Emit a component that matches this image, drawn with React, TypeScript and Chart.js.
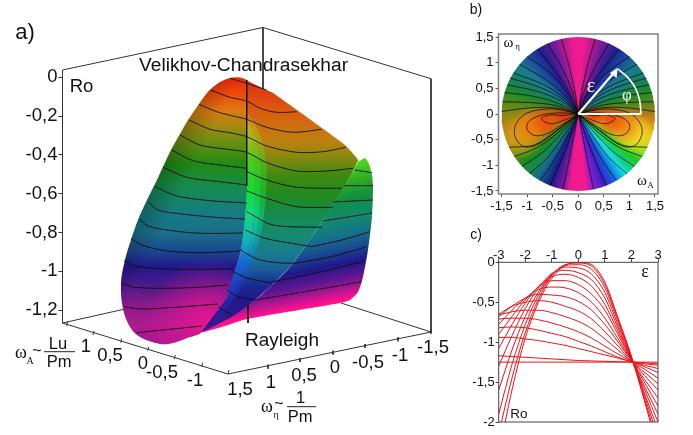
import React, { useEffect, useRef } from "react";
import { Chart, registerables } from "chart.js";

Chart.register(...registerables);

type Pt = [number, number];
const SANS = '"Liberation Sans", Arial, sans-serif';
const SERIF = '"Liberation Serif", serif';
const comma = (v: number) => String(v).replace(".", ",");

/* ---------- panel a: projected surface, in the picture's view coordinates ---------- */
const roTicks = [0, -0.2, -0.4, -0.6, -0.8, -1, -1.2];
const leftLobe: Pt[] = [[247,80],[240,77.5],[230,78],[217,84],[207,93],[197,107],[188,120],[180,134],[171,150],[163,167],[155,184],[147,200],[138,220],[131,240],[125,260],[121,283],[123,309],[130,327],[140,337],[160,344],[173,343],[187,338],[202,332],[218,310],[227,297],[236,268],[241,250],[245,220],[247,190],[247,120]];
const rightLobe: Pt[] = [[358,162],[365,158],[369,164],[372,175],[373,187],[372,217],[368,250],[363,277],[358,292],[350,300],[340,303],[247,319],[225,326],[202,332],[255,300],[290,267],[318,228],[345,186]];
const frontSurface: Pt[] = [[246,80],[262,88],[273,93],[297,110],[322,128],[345,145],[358,160],[345,186],[330,210],[318,228],[305,247],[290,267],[272,285],[255,300],[235,315],[202,332],[218,310],[227,297],[236,268],[241,250],[245,220],[247,190]];
const creaseGlowWide: Pt[] = [[247,112],[258,130],[266,160],[266,190],[264,215],[258,245],[248,275],[232,302],[210,327],[227,297],[236,268],[241,250],[245,220],[247,190]];
const creaseGlowMid: Pt[] = [[247,118],[254,135],[260,165],[260,195],[258,220],[253,248],[245,272],[232,297],[227,297],[236,268],[241,250],[245,220],[247,190]];
const creaseGlowNarrow: Pt[] = [[247,125],[251,145],[254,170],[254,200],[252,225],[248,250],[242,270],[232,292],[227,297],[236,268],[241,250],[245,220],[247,190]];

const leftStops: [number, string][] = [[78,"#e52a0a"],[92,"#ee4708"],[110,"#dd7a10"],[125,"#aa8a10"],[145,"#5f8f12"],[165,"#1f8a15"],[190,"#158a55"],[215,"#177a85"],[233,"#1a6f8a"],[250,"#1a4a90"],[267,"#22188a"],[285,"#4a1a8a"],[305,"#8a1a8a"],[325,"#b01a90"],[345,"#a01a90"]];
const rightStops: [number, string][] = [[170,"#50e020"],[190,"#30b020"],[208,"#109040"],[228,"#128a70"],[244,"#15708c"],[258,"#1a4a90"],[272,"#20188a"],[286,"#5a1590"],[298,"#b01590"],[308,"#ff1090"],[330,"#ff1090"]];
const frontStops: [number, string][] = [[82,"#dd300f"],[110,"#dd5a0f"],[140,"#c08010"],[155,"#90880f"],[175,"#408a10"],[195,"#208a20"],[215,"#168a50"],[235,"#158a70"],[255,"#1a7a90"],[270,"#1a5a9a"],[285,"#1a2a90"],[300,"#20188a"],[332,"#3a1a90"]];
const glowStops: [number, string][] = [[112,"#f0a01066"],[130,"#b0d02066"],[160,"#40e02066"],[190,"#10f04066"],[215,"#10f09066"],[240,"#10c0d066"],[260,"#1070e066"],[285,"#2040d066"],[330,"#3020a066"]];

const surfaceContours: Pt[][] = [
  [[230,78.3],[246.7,83.3],[266.7,90]],
  [[210.7,90],[230,97.3],[246.7,101],[260,108.3],[276.7,112.3],[296.7,111.7]],
  [[199,104.3],[216.7,111.7],[233,116],[246.7,119.3],[266.7,127.3],[293,132.3],[321.7,129.3]],
  [[189,120],[210,129.3],[230,132.7],[246.7,136.7],[266.7,146],[296.7,152.3],[323,151.7],[345.7,147.3]],
  [[180,135],[200,145],[226.7,149.3],[246.7,152.3],[266.7,162.7],[296.7,171],[326.7,171],[353,168.3]],
  [[171.7,150],[193,160.7],[220,165],[246.7,168.3]],
  [[247,171.7],[266.7,180],[296.7,187.3],[341.7,188.3]],
  [[163,167.3],[186.7,177.3],[220,181.7],[246.7,185]],
  [[247,191],[266.7,198.3],[296.7,206.7],[333,207.3]],
  [[155,186.7],[176.7,196],[210,200.7],[246.7,203]],
  [[246.7,211.7],[273,225],[322,227.3]],
  [[148,201.7],[158,210],[181.7,214],[215,217.3],[245,219]],
  [[245,230],[265,238.3],[291.7,243.3],[311.7,246.7]],
  [[140,219.3],[148,226],[171.7,230.7],[201.7,233.3],[243,233]],
  [[240,250],[258,259.3],[278,262.7],[295,263.3]],
  [[131,238.3],[141.7,245],[168,251],[201.7,252.7],[240,251]],
  [[233,271.7],[248,278.3],[271.7,283]],
  [[124,260.7],[135,266],[165,269],[198,269.3],[233,269]],
  [[226.7,290],[238,296.7],[255,300]],
  [[121,283.3],[135,287.3],[165,288.3],[198,287.3],[226.7,285]],
  [[218,306.7],[231.7,315]],
  [[124.3,306.7],[141.7,309],[175,307.3],[218,304]],
  [[136.7,332.7],[163,330],[201.7,326]],
  [[355,170],[372,172.7]],
  [[344,185.7],[373,185.7]],
  [[333,202],[373,200]],
  [[323,221],[348,217],[372,213]],
  [[311.7,246.7],[341.7,240],[370,231.7]],
  [[295,263.3],[331.7,256.7],[366.7,246.7]],
  [[271.7,282],[321.7,271.7],[363,261.7]],
  [[255,300],[305,291.7],[361.7,281.7]],
];
const creaseUpper: Pt[] = [[246.7,80],[246.7,186]];
const creaseLower: Pt[] = [[248,305],[248,323]];
const backBox: Pt[][] = [
  [[62.5,70],[263,27.5],[431,78.7],[431,332]],
  [[263,27.5],[263,90]],
  [[62.5,323],[125,309]],
  [[341,303],[431,332]],
];
const frontBox: Pt[][] = [
  [[62.5,70],[62.5,323],[228,374],[431,332]],
];
const omegaATicks: Pt[] = [[66.7,326],[93,335],[120.7,342.7],[147.7,350.7],[174.3,359],[201.7,366.7],[228,374]];
const omegaEtaTicks: Pt[] = [[268,366.7],[300,360],[333,352.7],[365,346],[398,339.3],[431,331.7]];
const omegaALabels = ["1","0,5","0","-0,5","-1"];
const omegaAPos: Pt[] = [[86,347],[110,356],[143,364],[162,373],[195,381]];
const omegaEtaLabels = ["1,5","1","0,5","0","-0,5","-1","-1,5"];
const omegaEtaPos: Pt[] = [[240,390],[271,383],[304,375.5],[335,368],[368,362.5],[400,355.5],[433,348]];

/* ---------- panel b ---------- */
const discTicks = [-1.5,-1,-0.5,0,0.5,1,1.5];
const discRadius = 1.5;
const discStops: [number, string][] = [
  [0,"#b07a14"],[6,"#d88a12"],[13,"#e8b018"],[20,"#dcd420"],[30,"#90e020"],[38,"#20c820"],[46,"#10d080"],[52,"#10e0e0"],[62,"#1060e0"],[70,"#4020c8"],[78,"#8020d0"],[84,"#f01a90"],[96,"#f01a90"],[102,"#7a18a0"],[112,"#1a1a8a"],[122,"#156a8a"],[130,"#128a50"],[138,"#1a8a20"],[148,"#709010"],[158,"#b08a10"],[172,"#b08010"],
  [180,"#8a8a14"],[190,"#4f8a1c"],[200,"#1a8a30"],[210,"#15806a"],[220,"#1b7a90"],[230,"#1a4a9a"],[240,"#20208f"],[250,"#6a1a9a"],[260,"#c01a90"],[266,"#f01a90"],[274,"#f01a90"],[280,"#c01a90"],[290,"#6a1a9a"],[300,"#20208f"],[310,"#1a4a9a"],[320,"#1b7a90"],[330,"#15806a"],[340,"#1a8a30"],[350,"#4f8a1c"],[360,"#b07a14"],
];
const discBlobs: [number, number, number, string][] = [
  [-1.1,-0.42,0.45,"225,160,25"],[1.08,-0.38,0.42,"245,215,35"],
  [-0.88,-0.24,0.42,"240,120,15"],[0.88,-0.22,0.38,"240,125,15"],
  [-0.6,-0.12,0.34,"240,75,10"],[0.6,-0.1,0.34,"240,75,10"],
  [-0.28,-0.03,0.22,"240,45,10"],[0.28,-0.03,0.22,"240,45,10"],
];
const discUpperArcs: Pt[][] = [
  [[0,0],[-.05,.35],[-.17,.9],[-.33,1.46]],
  [[0,0],[-.1,.4],[-.32,.9],[-.6,1.37]],
  [[0,0],[-.15,.38],[-.42,.8],[-.8,1.27]],
  [[0,0],[-.2,.4],[-.55,.8],[-1,1.12]],
  [[0,0],[-.25,.35],[-.65,.68],[-1.15,.97]],
  [[0,0],[-.3,.33],[-.7,.58],[-1.27,.8]],
  [[0,0],[-.33,.3],[-.75,.52],[-1.33,.7]],
  [[0,0],[-.35,.26],[-.8,.44],[-1.39,.57]],
  [[0,0],[-.4,.21],[-.85,.34],[-1.44,.42]],
  [[0,0],[-.42,.16],[-.9,.22],[-1.48,.24]],
  [[0,0],[-.45,.12],[-.95,.12],[-1.5,.05]],
];
const discLowerArcs: Pt[][] = [
  [[0,0],[-.1,-.5],[-.2,-1],[-.3,-1.47]],
  [[0,0],[-.17,-.5],[-.35,-.95],[-.55,-1.4]],
  [[0,0],[-.22,-.45],[-.48,-.92],[-.75,-1.3]],
  [[0,0],[-.28,-.42],[-.6,-.85],[-.95,-1.16]],
  [[0,0],[-.33,-.38],[-.7,-.75],[-1.1,-1.02]],
  [[0,0],[-.38,-.35],[-.8,-.65],[-1.25,-.83]],
  [[0,0],[-.42,-.32],[-.85,-.6],[-1.35,-.65]],
];
const discLoops: Pt[][] = [
  [[0,0],[-.3,-.03],[-.55,-.02],[-.72,-.09],[-.55,-.19],[-.3,-.13],[0,0]],
  [[0,0],[-.4,.02],[-.75,-.03],[-.97,-.15],[-1,-.3],[-.85,-.42],[-.6,-.38],[-.3,-.2],[0,0]],
  [[0,0],[-.5,.1],[-1,.02],[-1.22,-.2],[-1.24,-.42],[-1.1,-.62],[-.85,-.62],[-.45,-.35],[0,0]],
];
const arrowShaft: Pt[] = [[0,0],[.72,.83]];
const arrowHead: Pt[] = [[.77,.9],[.62,.8],[.75,.7]];
const baseLine: Pt[] = [[0,0],[1.23,0]];
const phiArc: Pt[] = [[.77,.88],[.98,.7],[1.12,.5],[1.2,.27],[1.23,0]];

/* ---------- panel c ---------- */
const epsTicks = [-3,-2,-1,0,1,2,3];
const roLineTicks = [0,-0.5,-1,-1.5,-2];
const epsGrid = [-3,-2.5,-2,-1.5,-1,-0.5,0,0.5,1,1.5,2,2.5,3];
const roCurve1 = [-2.4,-1.6,-0.95,-0.5,-0.2,-0.04,0,-0.03,-0.25,-0.7,-1.18,-1.75,-2.35];
const roCurve2 = [-2.15,-1.45,-0.88,-0.46,-0.17,-0.03,-0.01,-0.05,-0.28,-0.72,-1.18,-1.72,-2.28];
const roCurve3 = [-1.9,-1.28,-0.78,-0.41,-0.16,-0.04,-0.03,-0.09,-0.32,-0.75,-1.19,-1.68,-2.2];
const roCurve4 = [-1.6,-1.1,-0.68,-0.37,-0.15,-0.06,-0.07,-0.15,-0.38,-0.79,-1.2,-1.65,-2.1];
const roCurve5 = [-1.3,-0.92,-0.58,-0.32,-0.14,-0.1,-0.13,-0.22,-0.45,-0.83,-1.21,-1.6,-2.0];
const roCurve6 = [-1.08,-0.78,-0.51,-0.3,-0.18,-0.15,-0.19,-0.3,-0.53,-0.87,-1.22,-1.56,-1.9];
const roCurve7 = [-0.9,-0.68,-0.47,-0.31,-0.23,-0.23,-0.28,-0.4,-0.6,-0.91,-1.22,-1.51,-1.8];
const roCurve8 = [-0.78,-0.6,-0.45,-0.34,-0.31,-0.32,-0.38,-0.5,-0.7,-0.96,-1.23,-1.47,-1.7];
const roCurve9 = [-0.68,-0.55,-0.45,-0.4,-0.41,-0.43,-0.49,-0.6,-0.78,-1.0,-1.23,-1.42,-1.6];
const roCurve10 = [-0.65,-0.55,-0.5,-0.48,-0.5,-0.55,-0.61,-0.71,-0.87,-1.05,-1.24,-1.38,-1.52];
const roCurve11 = [-0.66,-0.62,-0.6,-0.6,-0.63,-0.68,-0.74,-0.83,-0.96,-1.1,-1.24,-1.34,-1.45];
const roCurve12 = [-0.71,-0.7,-0.7,-0.72,-0.76,-0.81,-0.87,-0.95,-1.05,-1.15,-1.24,-1.31,-1.38];
const roCurve13 = [-0.82,-0.81,-0.82,-0.85,-0.89,-0.93,-0.99,-1.05,-1.12,-1.19,-1.245,-1.29,-1.33];
const roCurve14 = [-0.94,-0.94,-0.96,-0.98,-1.01,-1.04,-1.08,-1.12,-1.16,-1.2,-1.245,-1.27,-1.29];
const roCurve15 = [-1.17,-1.18,-1.19,-1.2,-1.21,-1.22,-1.23,-1.235,-1.24,-1.245,-1.25,-1.26,-1.27];
const roCurve16 = [-1.25,-1.25,-1.25,-1.25,-1.25,-1.25,-1.25,-1.25,-1.25,-1.25,-1.25,-1.25,-1.25];
const roCurves = [roCurve1,roCurve2,roCurve3,roCurve4,roCurve5,roCurve6,roCurve7,roCurve8,roCurve9,roCurve10,roCurve11,roCurve12,roCurve13,roCurve14,roCurve15,roCurve16];

/* ---------- helpers ---------- */
const toXY = (pts: Pt[]) => pts.map(([x, y]) => ({ x, y }));
type Txt = [string, number, number, string, string?, CanvasTextAlign?];
const textPlugin = (items: Txt[], rules: [number,number,number,number][] = []) => ({
  id: "texts",
  afterDraw(chart: any) {
    const c = chart.ctx;
    c.save();
    c.textBaseline = "middle";
    for (const [t, x, y, font, color, align] of items) {
      c.font = font; c.fillStyle = color || "#111"; c.textAlign = align || "center";
      c.fillText(t, x, y);
    }
    c.strokeStyle = "#222"; c.lineWidth = 1;
    for (const [a, b, d, e] of rules) { c.beginPath(); c.moveTo(a, b); c.lineTo(d, e); c.stroke(); }
    c.restore();
  },
});
const framePlugin = (color: string, width: number) => ({
  id: "frame",
  afterDatasetsDraw(chart: any) {
    const { left, top, width: w, height: h } = chart.chartArea;
    const c = chart.ctx; c.save(); c.strokeStyle = color; c.lineWidth = width;
    c.strokeRect(left, top, w, h); c.restore();
  },
});
const viewGrad = (stops: [number, string][], tilt: number) => (ctx: any) => {
  const ch = ctx.chart;
  if (!ch.chartArea) return "transparent";
  const y0 = stops[0][0], y1 = stops[stops.length - 1][0];
  const h = (y1 - y0) / (1 + tilt * tilt);
  const px = (v: number) => ch.scales.x.getPixelForValue(v);
  const py = (v: number) => ch.scales.viewY.getPixelForValue(v);
  const g = ch.ctx.createLinearGradient(px(300), py(y0), px(300 + tilt * h), py(y0 + h));
  stops.forEach(([p, col]) => g.addColorStop((p - y0) / (y1 - y0), col));
  return g;
};
const edgeShade = (ctx: any) => {
  const ch = ctx.chart;
  if (!ch.chartArea) return "transparent";
  const px = (v: number) => ch.scales.x.getPixelForValue(v);
  const py = (v: number) => ch.scales.viewY.getPixelForValue(v);
  const g = ch.ctx.createLinearGradient(px(185), py(105), px(217), py(121));
  g.addColorStop(0, "rgba(0,0,0,0.3)");
  g.addColorStop(1, "rgba(0,0,0,0)");
  return g;
};
const pinkGlow = (ctx: any) => {
  const ch = ctx.chart;
  if (!ch.chartArea) return "transparent";
  const px = ch.scales.x.getPixelForValue(208), py = ch.scales.viewY.getPixelForValue(322);
  const g = ch.ctx.createRadialGradient(px, py, 0, px, py, 62);
  g.addColorStop(0, "rgba(240,20,145,0.85)");
  g.addColorStop(1, "rgba(240,20,145,0)");
  return g;
};
const noChrome = { legend: { display: false }, tooltip: { enabled: false }, title: { display: false } };

export default function App() {
  const aRef = useRef<HTMLCanvasElement>(null);
  const bRef = useRef<HTMLCanvasElement>(null);
  const cRef = useRef<HTMLCanvasElement>(null);

  useEffect(() => {
    /* panel a */
    const line = (pts: Pt[], color: string, width: number, tension = 0) => ({
      data: toXY(pts), borderColor: color, borderWidth: width, pointRadius: 0, tension, fill: false, yAxisID: "viewY", clip: false,
    });
    const area = (pts: Pt[], bg: any, tension = 0) => ({
      data: toXY(pts), backgroundColor: bg, borderWidth: 0, borderColor: "transparent", pointRadius: 0, tension, fill: "shape", yAxisID: "viewY", clip: false,
    });
    const aSets: any[] = [
      ...backBox.map((p) => line(p, "#333", 1)),
      area(leftLobe, viewGrad(leftStops, 0), 0.35),
      area(leftLobe, edgeShade, 0.35),
      area(leftLobe, pinkGlow, 0.35),
      area(rightLobe, viewGrad(rightStops, 0.2), 0.2),
      area(frontSurface, viewGrad(frontStops, 0), 0.1),
      area(creaseGlowWide, viewGrad(glowStops, 0), 0.3),
      area(creaseGlowMid, viewGrad(glowStops, 0), 0.3),
      area(creaseGlowNarrow, viewGrad(glowStops, 0), 0.3),
      ...surfaceContours.map((p) => line(p, "rgba(10,10,10,0.85)", 1, 0.3)),
      line(creaseUpper, "#111", 1),
      line(creaseLower, "#111", 1),
      ...frontBox.map((p) => line(p, "#333", 1)),
      ...omegaATicks.map(([x, y]) => line([[x, y], [x + 1, y - 4]], "#333", 1)),
      ...omegaEtaTicks.map(([x, y]) => line([[x, y - 2], [x, y + 2]], "#333", 1)),
    ];
    const aFont = `18.5px ${SANS}`;
    const aTexts: Txt[] = [
      ["a)", 25, 33, `22px ${SANS}`],
      ["Velikhov-Chandrasekhar", 243.5, 66, `19.2px ${SANS}`],
      ["Ro", 81.5, 87, aFont],
      ["Rayleigh", 282, 341, `19px ${SANS}`],
      ...omegaALabels.map((t, i): Txt => [t, omegaAPos[i][0], omegaAPos[i][1], aFont]),
      ...omegaEtaLabels.map((t, i): Txt => [t, omegaEtaPos[i][0], omegaEtaPos[i][1], aFont]),
      ["ω", 21, 353, `18px ${SERIF}`],
      ["A", 30, 361, `10px ${SERIF}`],
      ["~", 37, 352, `16px ${SANS}`],
      ["Lu", 58, 344, `16.5px ${SANS}`],
      ["Pm", 59, 362.5, `16.5px ${SANS}`],
      ["ω", 267, 407, `18px ${SERIF}`],
      ["η", 276, 415, `10px ${SERIF}`],
      ["~", 279, 405, `16px ${SANS}`],
      ["1", 300.5, 398, `16.5px ${SANS}`],
      ["Pm", 300, 417, `16.5px ${SANS}`],
    ];
    const chartA = new Chart(aRef.current!, {
      type: "line",
      data: { datasets: aSets.slice().reverse() },
      options: {
        responsive: false, animation: false, events: [],
        layout: { padding: 0 },
        plugins: noChrome,
        scales: {
          x: { type: "linear", display: false, min: 62.5, max: 465 },
          viewY: { type: "linear", display: false, min: 0, max: 435, reverse: true },
          ro: {
            type: "linear", position: "left", min: -1.8438, max: 0.3985,
            afterBuildTicks: (s: any) => { s.ticks = roTicks.map((value) => ({ value })); },
            afterFit: (s: any) => { s.width = 62.5; s.paddingTop = 0; s.paddingBottom = 0; },
            ticks: { autoSkip: false, font: { family: "Liberation Sans", size: 18.5 }, color: "#111", padding: 1, callback: (v: any) => comma(v) },
            grid: { drawOnChartArea: false, drawTicks: true, tickLength: 4, color: "#333" },
            border: { display: false },
          },
        },
      } as any,
      plugins: [textPlugin(aTexts, [[44, 351.7, 75, 351.7], [287, 406.7, 316, 406.7]])],
    } as any);

    /* panel b */
    const mirror = (p: Pt[]): Pt[] => p.map(([x, y]) => [-x, y]);
    const discEdge: Pt[] = Array.from({ length: 121 }, (_, i) => {
      const a = (i * 3 * Math.PI) / 180;
      return [discRadius * Math.cos(a), discRadius * Math.sin(a)] as Pt;
    });
    const bLine = (pts: Pt[], color: string, width: number, tension = 0.35) => ({
      data: toXY(pts), borderColor: color, borderWidth: width, pointRadius: 0, tension, fill: false, clip: false,
    });
    const bArea = (pts: Pt[], bg: any) => ({
      data: toXY(pts), backgroundColor: bg, borderWidth: 0, borderColor: "transparent", pointRadius: 0, tension: 0, fill: "shape", clip: false,
    });
    const conic = (ctx: any) => {
      const ch = ctx.chart;
      if (!ch.chartArea) return "transparent";
      const g = ch.ctx.createConicGradient(0, ch.scales.x.getPixelForValue(0), ch.scales.y.getPixelForValue(0));
      discStops.forEach(([d, col]) => g.addColorStop(d / 360, col));
      return g;
    };
    const blob = ([x, y, r, rgb]: [number, number, number, string]) => (ctx: any) => {
      const ch = ctx.chart;
      if (!ch.chartArea) return "transparent";
      const px = ch.scales.x.getPixelForValue(x), py = ch.scales.y.getPixelForValue(y);
      const pr = Math.abs(ch.scales.x.getPixelForValue(r) - ch.scales.x.getPixelForValue(0));
      const g = ch.ctx.createRadialGradient(px, py, 0, px, py, pr);
      g.addColorStop(0, `rgba(${rgb},0.95)`);
      g.addColorStop(0.5, `rgba(${rgb},0.6)`);
      g.addColorStop(1, `rgba(${rgb},0)`);
      return g;
    };
    const allArcs = [...discUpperArcs, ...discLowerArcs, ...discLoops];
    const bSets: any[] = [
      bArea(discEdge, conic),
      ...discBlobs.map((b) => bArea(discEdge, blob(b))),
      ...allArcs.map((p) => bLine(p, "rgba(5,5,5,0.8)", 0.9)),
      ...allArcs.map((p) => bLine(mirror(p), "rgba(5,5,5,0.8)", 0.9)),
      bLine(arrowShaft, "#fff", 2.2, 0),
      bLine(baseLine, "#fff", 2.2, 0),
      bLine(phiArc, "#fff", 1.6, 0.35),
      bArea(arrowHead, "#fff"),
    ];
    const axisFont = { family: "Liberation Sans", size: 13 };
    const bTexts: Txt[] = [
      ["b)", 476, 10, `14px ${SANS}`],
      ["ε", 591, 87, `20px ${SERIF}`, "#fff"],
      ["φ", 627, 96, `17px ${SERIF}`, "#fff"],
      ["ω", 508.5, 43, `15px ${SERIF}`],
      ["η", 517.5, 47, `9px ${SERIF}`],
      ["ω", 642, 181, `15px ${SERIF}`],
      ["A", 650.5, 186, `9px ${SERIF}`],
    ];
    const chartB = new Chart(bRef.current!, {
      type: "line",
      data: { datasets: bSets.slice().reverse() },
      options: {
        responsive: false, animation: false, events: [],
        layout: { padding: { top: 34, right: 35, bottom: 0, left: 0 } },
        plugins: noChrome,
        scales: {
          x: {
            type: "linear", position: "bottom", min: -1.56, max: 1.56,
            afterBuildTicks: (s: any) => { s.ticks = discTicks.map((value) => ({ value })); },
            afterFit: (s: any) => { s.height = 31; s.paddingLeft = 0; s.paddingRight = 0; },
            ticks: { autoSkip: false, maxRotation: 0, font: axisFont, color: "#111", padding: 2, callback: (v: any) => comma(v) },
            grid: { drawOnChartArea: false, tickLength: 3, color: "#555" }, border: { display: false },
          },
          y: {
            type: "linear", position: "left", min: -1.56, max: 1.56,
            afterBuildTicks: (s: any) => { s.ticks = discTicks.map((value) => ({ value })); },
            afterFit: (s: any) => { s.width = 33.5; s.paddingTop = 0; s.paddingBottom = 0; },
            ticks: { autoSkip: false, font: axisFont, color: "#111", padding: 2, callback: (v: any) => comma(v) },
            grid: { drawOnChartArea: false, tickLength: 3, color: "#555" }, border: { display: false },
          },
        },
      } as any,
      plugins: [framePlugin("#808080", 1.5), {
        id: "shift",
        afterDraw(chart: any) {
          const c = chart.ctx; c.save();
          c.textBaseline = "middle"; c.textAlign = "center";
          for (const [t, x, y, font, color] of bTexts) { c.font = font; c.fillStyle = color || "#111"; c.fillText(t, x - 465, y); }
          c.restore();
        },
      }],
    } as any);

    /* panel c */
    const chartC = new Chart(cRef.current!, {
      type: "line",
      data: {
        datasets: roCurves.map((vals) => ({
          data: vals.map((y, i) => ({ x: epsGrid[i], y })),
          borderColor: "#e8141c", borderWidth: 1, pointRadius: 0, cubicInterpolationMode: "monotone", fill: false,
        })),
      },
      options: {
        responsive: false, animation: false, events: [],
        layout: { padding: { top: 0, right: 35, bottom: 13, left: 0 } },
        plugins: noChrome,
        scales: {
          x: {
            type: "linear", position: "top", min: -3, max: 3,
            afterBuildTicks: (s: any) => { s.ticks = epsTicks.map((value) => ({ value })); },
            afterFit: (s: any) => { s.height = 37.3; s.paddingLeft = 0; s.paddingRight = 0; },
            ticks: { autoSkip: false, maxRotation: 0, font: axisFont, color: "#111", padding: -4, callback: (v: any) => comma(v) },
            grid: { drawOnChartArea: false, tickLength: 3, color: "#444" }, border: { display: false },
          },
          y: {
            type: "linear", position: "left", min: -2, max: 0,
            afterBuildTicks: (s: any) => { s.ticks = roLineTicks.map((value) => ({ value })); },
            afterFit: (s: any) => { s.width = 33.7; s.paddingTop = 0; s.paddingBottom = 0; },
            ticks: { autoSkip: false, font: axisFont, color: "#111", padding: 1, callback: (v: any) => comma(v) },
            grid: { drawOnChartArea: false, tickLength: 3, color: "#444" }, border: { display: false },
          },
        },
      } as any,
      plugins: [framePlugin("#444", 1), textPlugin([
        ["c)", 11, 10, `14px ${SANS}`],
        ["ε", 180, 47, `18px ${SERIF}`],
        ["Ro", 54, 189, `13.5px ${SANS}`],
      ])],
    } as any);

    return () => { chartA.destroy(); chartB.destroy(); chartC.destroy(); };
  }, []);

  const pos = (left: number, top: number): React.CSSProperties => ({ position: "absolute", left, top, display: "block" });
  return (
    <div style={{ position: "absolute", left: 0, top: 0, width: 693, height: 435, background: "#fff", overflow: "hidden" }}>
      <canvas ref={aRef} width={465} height={435} style={pos(0, 0)} />
      <canvas ref={bRef} width={228} height={225} style={pos(465, 0)} />
      <canvas ref={cRef} width={228} height={210} style={pos(465, 225)} />
    </div>
  );
}
